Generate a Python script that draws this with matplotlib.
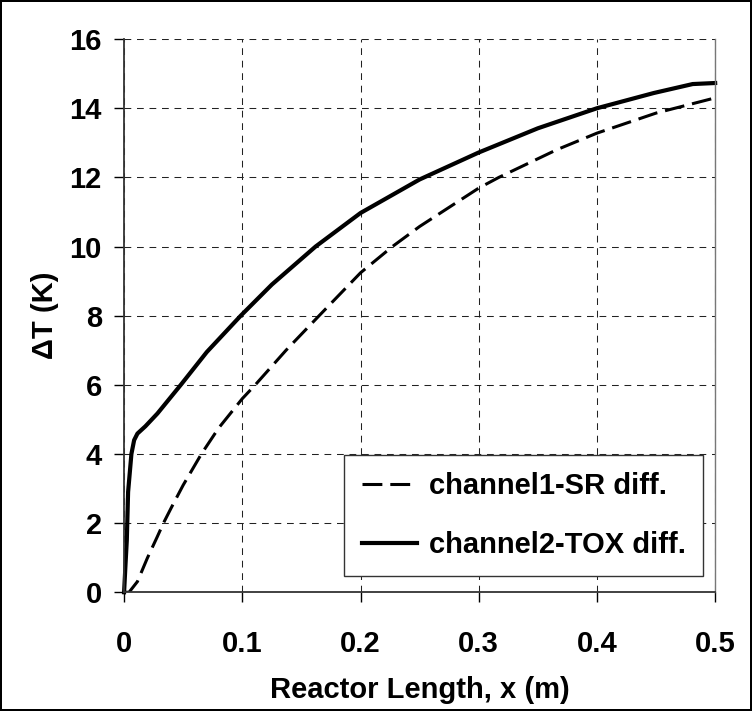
import matplotlib.pyplot as plt

x_sr = [0.0, 0.0042, 0.0113, 0.0197, 0.028, 0.0333, 0.040, 0.050, 0.0654, 0.080,
        0.100, 0.111, 0.137, 0.165, 0.200, 0.227, 0.250, 0.300, 0.317, 0.366,
        0.400, 0.450, 0.500]
y_sr = [0.0, 0.0, 0.31, 0.99, 1.6, 2.0, 2.45, 3.1, 4.0, 4.75,
        5.6, 6.0, 7.0, 8.0, 9.24, 10.0, 10.58, 11.69, 12.0, 12.8,
        13.28, 13.86, 14.3]

x_tox = [0.0, 0.0012, 0.0023, 0.0034, 0.0062, 0.0085, 0.0113, 0.018, 0.0282, 0.048,
         0.070, 0.0987, 0.125, 0.162, 0.200, 0.250, 0.300, 0.350, 0.400, 0.448,
         0.481, 0.500]
y_tox = [0.0, 0.8, 1.5, 2.9, 4.0, 4.4, 4.59, 4.8, 5.17, 6.0,
         6.95, 8.0, 8.9, 10.0, 10.97, 11.94, 12.72, 13.42, 14.0, 14.44,
         14.7, 14.73]

xticks = [0, 0.1, 0.2, 0.3, 0.4, 0.5]
xticklabels = ['0', '0.1', '0.2', '0.3', '0.4', '0.5']
yticks = [0, 2, 4, 6, 8, 10, 12, 14, 16]

plt.rcParams['font.family'] = ['Liberation Sans', 'DejaVu Sans']
plt.rcParams['font.weight'] = 'bold'

fig = plt.figure(figsize=(7.52, 7.11), dpi=100)
fig.patch.set_edgecolor('black')
fig.patch.set_linewidth(1.5)
ax = fig.add_axes([0.165, 0.167, 0.786, 0.778])

ax.plot(x_sr, y_sr, color='black', lw=2.2, dashes=(6.5, 2.6), label='channel1-SR diff.')
ax.plot(x_tox, y_tox, color='black', lw=3.0, label='channel2-TOX diff.', clip_on=False)

ax.set_xlim(0, 0.5)
ax.set_ylim(0, 16)
ax.set_xticks(xticks)
ax.set_xticklabels(xticklabels)
ax.set_yticks(yticks)
ax.tick_params(axis='both', direction='out', length=7, width=1, labelsize=21)
ax.tick_params(axis='x', pad=20)
ax.tick_params(axis='y', pad=9)
for lab in ax.get_xticklabels() + ax.get_yticklabels():
    lab.set_fontweight('bold')

ax.grid(True, color='#222222', lw=0.75, linestyle=(0, (6.5, 5.5)))
ax.set_axisbelow(True)

ax.spines['top'].set_visible(False)
ax.spines['right'].set_color('#777777')
ax.spines['right'].set_linewidth(1.0)
ax.spines['left'].set_color('#333333')
ax.spines['bottom'].set_color('#333333')
ax.spines['left'].set_linewidth(1.3)
ax.spines['bottom'].set_linewidth(1.3)

ax.set_xlabel('Reactor Length, x (m)', fontsize=21, fontweight='bold')
ax.set_ylabel('ΔT (K)', fontsize=21, fontweight='bold')
ax.xaxis.set_label_coords(0.5, -0.152)
ax.yaxis.set_label_coords(-0.11, 0.5)

leg = ax.legend(loc='lower right', bbox_to_anchor=(0.98, 0.029), fontsize=21,
                frameon=True, fancybox=False, framealpha=1, edgecolor='#333333',
                handlelength=1.9, handletextpad=0.4, labelspacing=1.05,
                borderpad=0.6, borderaxespad=0)
leg.get_frame().set_linewidth(1.0)
for t in leg.get_texts():
    t.set_fontweight('bold')

fig.savefig('out.png', dpi=100)
